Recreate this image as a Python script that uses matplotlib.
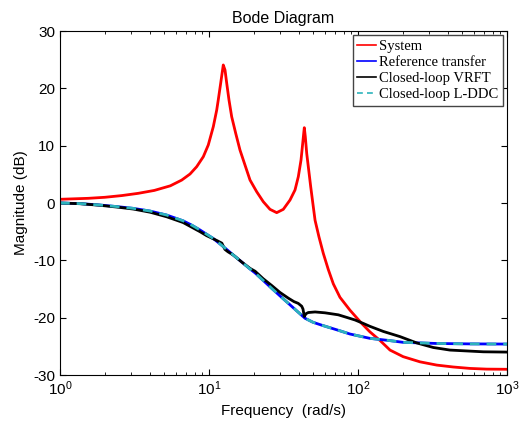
import matplotlib
matplotlib.use("Agg")
import matplotlib.pyplot as plt
import numpy as np

plt.rcParams['font.family'] = ['Liberation Sans', 'DejaVu Sans']
plt.rcParams['mathtext.default'] = 'regular'
plt.rcParams['axes.unicode_minus'] = False

# values (frequency in rad/s, magnitude in dB)
sys_w = [1, 1.55, 2.0, 2.6, 3.35, 4.3, 5.5, 6.56, 7.46, 8.27, 9.16, 9.89, 10.69, 11.27,
         11.54, 11.98, 12.47, 12.81, 13.15, 13.62, 14.20, 15.11, 16.14, 17.44, 18.85,
         20.9, 23.14, 25.67, 28.47, 31.53, 34.97, 37.78, 39.76, 41.46, 42.56, 43.22,
         43.62, 44.3, 45.27, 46.4, 48.15, 50.12, 51.5, 54.7, 58.5, 63.2, 68.3, 75.7,
         88.4, 105.9, 120.1, 140.9, 164, 201, 260.7, 338, 436, 565, 731, 1000]
sys_db = [0.65, 0.82, 1.0, 1.3, 1.69, 2.2, 3.0, 4.0, 5.06, 6.34, 8.08, 10.12, 13.32, 16.23,
          17.98, 20.89, 24.08, 23.2, 20.9, 17.98, 15.06, 12.16, 9.25, 6.63, 4.01,
          1.97, 0.23, -1.1, -1.68, -1.1, 0.52, 2.27, 4.59, 7.5, 10.42, 12.16,
          13.14, 11.57, 8.67, 6.34, 2.85, -0.65, -3.0, -5.9, -8.78, -11.6, -14.1, -16.45,
          -18.7, -21.0, -22.46, -24.0, -25.65, -26.8, -27.7, -28.27, -28.6, -28.85, -28.97, -29.0]

ref_w = [1, 1.362, 1.855, 2.40, 3.10, 4.02, 5.2, 6.7, 7.65, 8.7, 9.65, 10.7, 12.47, 14.6,
         16.6, 18.85, 20.4, 23.1, 26.4, 29.96, 34.1, 38.96, 44.1, 49.9, 57.0, 73.8,
         88.4, 120, 164, 201, 338, 565, 1000]
ref_db = [0.0, -0.1, -0.35, -0.62, -0.93, -1.4, -2.1, -3.1, -3.85, -4.7, -5.45, -6.2, -7.6, -9.1,
          -10.3, -11.5, -12.2, -13.5, -14.9, -16.2, -17.5, -18.85, -20.1, -20.8, -21.3, -22.2,
          -22.85, -23.6, -24.0, -24.3, -24.5, -24.57, -24.6]

vrft_w = [1, 1.362, 1.855, 2.40, 3.10, 4.02, 5.2, 6.7, 8.7, 9.65, 10.7, 11.4, 12.2, 12.51,
          12.8, 13.4, 14.6, 16.6, 18.85, 20.4, 23.1, 26.4, 29.96, 34.1, 37.2, 39.7,
          41.9, 42.75, 43.6, 44.8, 46.4, 51.5, 60.0, 73.8, 84.0, 95.5, 108.5, 120,
          147.9, 191.4, 247.7, 320.2, 414.3, 693, 1000]
vrft_db = [0.0, -0.12, -0.4, -0.7, -1.05, -1.6, -2.4, -3.4, -5.0, -5.7, -6.25, -6.6, -7.0, -7.6,
           -8.1, -8.5, -9.1, -10.3, -11.4, -11.9, -13.2, -14.4, -15.6, -16.6, -17.2, -17.5,
           -18.0, -18.5, -19.8, -19.3, -19.1, -19.0, -19.15, -19.5, -19.95, -20.4, -21.0, -21.5,
           -22.4, -23.3, -24.4, -25.2, -25.65, -25.95, -26.0]

# L-DDC closed loop sits on top of the reference transfer
lddc_w = ref_w
lddc_db = ref_db

fig = plt.figure(figsize=(5.23, 4.25), dpi=100)
ax = fig.add_axes([0.1147, 0.1176, 0.8547, 0.8094])

ax.semilogx(sys_w, sys_db, color='red', lw=2, label='System')
ax.semilogx(ref_w, ref_db, color='blue', lw=2, label='Reference transfer')
ax.semilogx(vrft_w, vrft_db, color='black', lw=2, label='Closed-loop VRFT')
ax.semilogx(lddc_w, lddc_db, color='#2cb4bc', lw=2, ls=(0, (3.5, 2.5)), label='Closed-loop L-DDC')

ax.set_xlim(1, 1000)
ax.set_ylim(-30, 30)
ax.set_yticks(np.arange(-30, 31, 10))
ax.tick_params(which='both', direction='in', top=True, right=True, labelsize=11)
ax.tick_params(which='major', length=4)
ax.tick_params(which='minor', length=2.5)

ax.set_title('Bode Diagram', fontsize=11.5)
ax.set_xlabel('Frequency  (rad/s)', fontsize=11)
ax.set_ylabel('Magnitude (dB)', fontsize=11)

leg = ax.legend(loc='upper right', handlelength=1.3, handletextpad=0.2,
                borderaxespad=0.3, borderpad=0.3, labelspacing=0.2,
                fancybox=False, framealpha=1, edgecolor='#444444',
                prop={'family': ['Liberation Serif'], 'size': 10.5})
for line in leg.get_lines():
    line.set_linewidth(1.2)

fig.savefig('out.png', dpi=100)
